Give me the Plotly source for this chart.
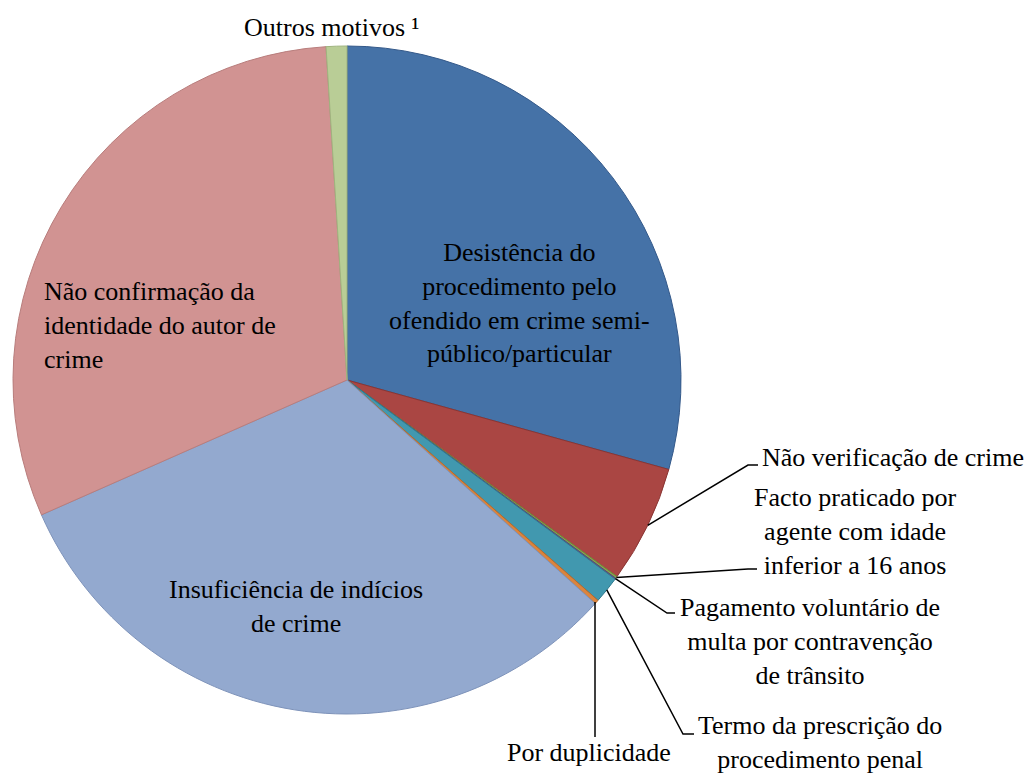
import math
import plotly.graph_objects as go

categories = [
    "Desistência do procedimento pelo ofendido em crime semi-público/particular",
    "Não verificação de crime",
    "Facto praticado por agente com idade inferior a 16 anos",
    "Pagamento voluntário de multa por contravenção de trânsito",
    "Termo da prescrição do procedimento penal",
    "Por duplicidade",
    "Insuficiência de indícios de crime",
    "Não confirmação da identidade do autor de crime",
    "Outros motivos¹",
]
values = [29.3, 5.7, 0.1, 0.05, 1.3, 0.2, 31.7, 30.6, 1.0]
colors = ["#4572A7", "#AA4643", "#89A54E", "#71588F", "#4198AF", "#DB843D",
          "#93A9CF", "#D19392", "#B9CD96"]
edge_colors = ["#34598A", "#8A3533", "#6E8A3A", "#5A4675", "#317C90", "#B86A2A",
               "#7E93BA", "#B87D7C", "#9FB47E"]

W, H = 1033, 773
CX, CY, R = 347, 380, 334
FONT = "'Liberation Serif', 'Times New Roman', Tinos, 'DejaVu Serif', 'Noto Serif', serif"
FS = 26


def px(x):
    return x / W


def py(y):
    return 1 - y / H


fig = go.Figure(go.Pie(
    labels=categories, values=values, sort=False, direction="clockwise",
    rotation=0, textinfo="none", hoverinfo="label+percent",
    marker=dict(colors=colors, line=dict(color=edge_colors, width=1)),
    domain=dict(x=[px(CX - R), px(CX + R)], y=[py(CY + R), py(CY - R)]),
    showlegend=False,
))

# slice mid-angle edge points, derived from the data
total = sum(values)
edge_pts = []
acc = 0.0
for v in values:
    mid = (acc + v / 2) / total * 2 * math.pi
    edge_pts.append((CX + R * math.sin(mid), CY - R * math.cos(mid)))
    acc += v

annotations = []


def label(text, x, y, align="center", xanchor="center"):
    annotations.append(dict(
        text=text, x=px(x), y=py(y), xref="paper", yref="paper",
        showarrow=False, align=align, xanchor=xanchor, yanchor="middle",
        font=dict(family=FONT, size=FS, color="#000000")))


label("Desistência do<br>procedimento pelo<br>ofendido em crime semi-<br>público/particular", 519, 303)
label("Não confirmação da<br>identidade do autor de<br>crime", 42, 325, align="left", xanchor="left")
label("Insuficiência de indícios<br>de crime", 296, 606)
label("Outros motivos ¹", 331, 27)
label("Não verificação de crime", 760, 457, align="left", xanchor="left")
label("Facto praticado por<br>agente com idade<br>inferior a 16 anos", 855, 531)
label("Pagamento voluntário de<br>multa por contravenção<br>de trânsito", 810, 641)
label("Termo da prescrição do<br>procedimento penal", 820, 742)
label("Por duplicidade", 589, 752)

# leader lines: (slice index, elbow point, end point)
leaders = [
    (1, (748, 465), (758, 465)),
    (2, (748, 569), (757, 569)),
    (3, (667, 613), (675, 613)),
    (4, (683, 734), (694, 734)),
    (5, (595, 737), (595, 737)),
]
shapes = []
for idx, (ex, ey), (tx, ty) in leaders:
    sx, sy = edge_pts[idx]
    if idx == 5:
        sx = ex
    path = f"M {px(sx)},{py(sy)} L {px(ex)},{py(ey)} L {px(tx)},{py(ty)}"
    shapes.append(dict(type="path", path=path, xref="paper", yref="paper",
                       line=dict(color="#000000", width=1.5)))

fig.update_layout(
    width=W, height=H, margin=dict(l=0, r=0, t=0, b=0),
    paper_bgcolor="#FFFFFF", plot_bgcolor="#FFFFFF",
    annotations=annotations, shapes=shapes,
)

fig.write_html(
    "out.html",
    config={"displayModeBar": False},
    post_script="document.body.style.margin='0';document.body.style.overflow='hidden';",
)
